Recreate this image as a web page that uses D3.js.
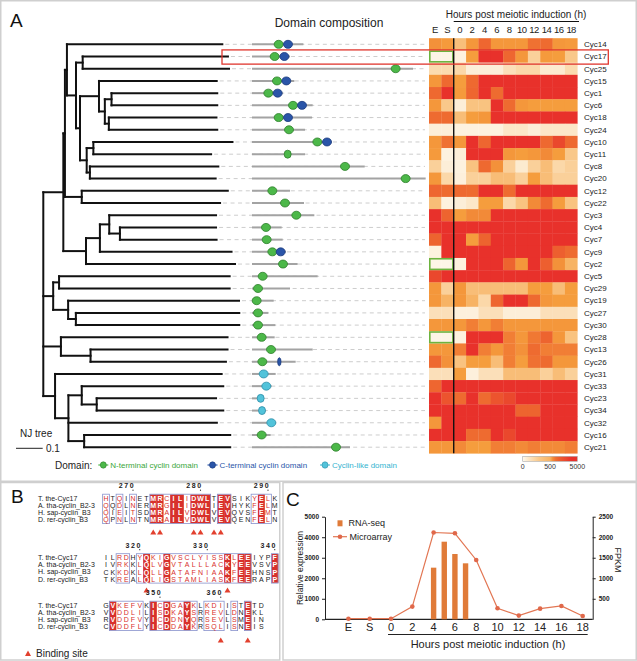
<!DOCTYPE html>
<html><head><meta charset="utf-8">
<script src="https://cdn.jsdelivr.net/npm/d3@7"></script>
<style>
body{margin:0;background:#fff}
svg{display:block}
text{font-family:"Liberation Sans",Arial,Helvetica,sans-serif}
</style>
</head><body>
<svg id="c" width="637" height="661"></svg>
<script>
// ---------------- DATA ----------------
const genes = ["Cyc14","Cyc17","Cyc25","Cyc15","Cyc1","Cyc6","Cyc18","Cyc24","Cyc10","Cyc11","Cyc8","Cyc20","Cyc12","Cyc22","Cyc3","Cyc4","Cyc7","Cyc9","Cyc2","Cyc5","Cyc29","Cyc19","Cyc27","Cyc30","Cyc28","Cyc13","Cyc26","Cyc31","Cyc33","Cyc23","Cyc34","Cyc32","Cyc16","Cyc21"];
const timeCols = ["E","S","0","2","4","6","8","10","12","14","16","18"];
const expr = [
 [900,750,380,800,1700,800,800,800,1400,1500,800,750],
 [20,20,40,700,4500,4500,1700,800,250,750,700,300],
 [180,180,200,60,60,60,150,200,200,80,80,180],
 [800,1600,700,1600,4500,4500,4500,4500,4500,4500,4500,4500],
 [1600,4500,750,1700,4500,1500,4500,4500,4500,4500,4500,4500],
 [800,300,60,350,350,4500,1500,800,700,700,700,700],
 [1500,1500,400,700,800,4500,4500,4500,4500,4500,4500,4500],
 [60,60,40,40,40,40,100,100,60,100,100,100],
 [800,1400,800,4500,1700,4500,4500,4500,4500,1600,3000,1600],
 [750,40,60,4500,4500,4500,800,700,800,1000,700,300],
 [250,60,40,350,1600,900,250,80,250,400,200,250],
 [800,200,50,250,250,400,400,250,700,400,250,250],
 [1700,1500,1600,1500,4500,4500,1500,4500,4500,4500,4500,4500],
 [400,40,60,100,700,700,200,350,1000,1500,700,350],
 [4500,1800,700,1000,1000,4500,4500,4500,4500,4500,4500,4500],
 [4500,4500,4500,4500,4500,4500,4500,4500,4500,4500,4500,4500],
 [1800,4500,4500,700,1800,4500,4500,4500,4500,4500,4500,4500],
 [40,4500,4500,4500,4500,4500,4500,4500,4500,4500,2000,1500],
 [20,20,40,4500,4500,4500,1800,800,4500,2000,900,500],
 [3000,4500,4500,4500,4500,4500,4500,4500,4500,4500,4500,4500],
 [800,250,800,400,400,400,400,400,700,700,400,700],
 [800,500,800,500,200,1700,4500,4500,1600,800,700,700],
 [150,150,50,50,150,150,60,60,60,150,150,150],
 [800,800,800,1200,800,1200,800,800,800,800,800,800],
 [20,20,40,4500,4500,4500,1200,800,1300,1800,800,350],
 [800,800,1200,4500,1200,800,1200,900,1500,1200,1200,1200],
 [1600,900,350,700,700,400,1200,700,1400,1500,800,800],
 [150,150,700,50,150,150,400,400,400,250,400,250],
 [1700,4500,4500,4500,4500,4500,4500,4500,4500,4500,4500,4500],
 [4500,2500,1500,4500,1500,2500,3000,4500,4500,4500,4500,4500],
 [4500,4500,4500,4500,4500,4500,4500,1800,1800,4500,4500,4500],
 [800,4500,4500,4500,4500,4500,4500,4500,4500,4500,4500,4500],
 [4500,4500,4500,1500,1500,4500,3000,4500,4500,4500,4500,4500],
 [800,800,1000,700,700,1200,1200,1000,1200,1000,1000,1200]
];
const missingES = ["Cyc17","Cyc2","Cyc28"];
const highlighted = "Cyc17";
const legendTicks = [0,500,5000];

const treeNewick = "((((Cyc14:0.582,((Cyc17:0.544,Cyc25:0.548):0.025,((Cyc15:0.441,((Cyc1:0.396,Cyc6:0.396):0.025,(Cyc18:0.403,Cyc24:0.406):0.015):0.022):0.071,((Cyc10:0.521,Cyc11:0.441):0.025,(Cyc8:0.481,Cyc20:0.471):0.012):0.025):0.015):0.034):0.0075,(Cyc12:0.547,Cyc22:0.518):0.063):0.006,(((Cyc3:0.400,(Cyc4:0.360,Cyc7:0.362):0.040):0.035,Cyc9:0.493):0.052,Cyc2:0.558):0.085):0.075,((Cyc5:0.639,Cyc29:0.639):0.022,(Cyc19:0.640,(Cyc27:0.612,Cyc30:0.612):0.029):0.056):0.037,(Cyc28:0.624,(Cyc13:0.513,Cyc26:0.507):0.111):0.066,(Cyc31:0.624,((Cyc33:0.530,(Cyc23:0.447,Cyc34:0.474):0.056):0.050,Cyc32:0.556,(Cyc16:0.547,Cyc21:0.547):0.059):0.050):0.044);";
const scaleBarValue = 0.1;

const proteinLength = [308,228,966,254,184,364,360,318,478,318,676,1042,228,312,374,178,184,204,274,394,228,130,98,140,136,364,262,142,118,66,84,144,112,588];
const domains = [
 [["N",160],["C",216]],[["N",136],["C",194]],[["N",862]],[["N",150],["C",206]],
 [["N",98],["C",154]],[["N",246],["C",300]],[["N",160],["C",216]],[["N",222]],
 [["N",392],["C",450]],[["N",214,42]],[["N",558]],[["N",922]],
 [["N",122]],[["N",198]],[["N",266]],[["N",84]],[["N",88]],[["N",122],["C",172]],
 [["N",186]],[["N",64]],[["N",36]],[["N",28]],[["N",36]],[["N",36]],[["N",58]],
 [["N",114]],[["N",62],["C",164,20]],[["L",70]],[["L",86]],[["L",52,42]],[["L",60,42]],
 [["L",116]],[["N",58]],[["N",504]]
];
const domainTypes = ["N","C","L"];
const domainNames = ["N-terminal cyclin domain","C-terminal cyclin domain","Cyclin-like domain"];

const seqNames = ["T. the-Cyc17","A. tha-cyclin_B2-3","H. sap-cyclin_B3","D. rer-cyclin_B3"];
const block1 = ["HTQINETMRCILIDWLTEVSIKYELK","QQDLNERMRGILIDWLIEVHYKFELM","QIEITSDMRAILVDWLVEVQVSFEMT","QPNLNTNMRAILVDWLVEVQENFELN"];
const block2 = ["ILRDHYQKIGVSCLYISSKLEEIYPF","IVRKKLQLVGVTALLLACKYEEVSVP","CKKDKLQLLGATAFNIAAKFEEHNSP","TKREALQLIGSTAMLIASKFEERAPP"];
const block3 = ["GVKEFVKICDGAYKLKDIISTETD","VVDDLILISDKAYSRREVLDNEKL","RVDDFVYICDDNYQRSEVLSMEIN","CVDDFLYICDDAYKRSQLISNEIS"];
const marks1 = "s.s.s..FFsFFsFFF.FF...sFs.";
const marks2 = "..ss.sFssFssssssssFsFF...F";
const marks3 = ".Fssss.FsFssFs.sss.s.F..";
const ticks1 = [[4,"270"],[14,"280"],[24,"290"]];
const ticks2 = [[5,"320"],[15,"330"],[25,"340"]];
const ticks3 = [[8,"350"],[17,"360"]];
const sites1 = [7,8,13,14,16,17];
const sites2 = [6,18];
const sites3 = [17,21];

const microarray = [30,30,30,620,4230,4190,2890,540,180,520,650,160];
const rnaseqHours = [4,5,6,7];
const rnaseqFPKM = [1258,1891,1591,1364];
const leftTicks = [0,1000,2000,3000,4000,5000];
const rightTicks = [500,1000,1500,2000,2500];

// ---------------- DRAW ----------------
const svg = d3.select("#c");
svg.append("rect").attr("width",637).attr("height",661).attr("fill","#fff");
const frame = "#cfcfcf";
svg.append("rect").attr("x",0.75).attr("y",0.75).attr("width",635.5).attr("height",480.5).attr("fill","none").attr("stroke",frame).attr("stroke-width",1.5);
svg.append("rect").attr("x",0.75).attr("y",482.5).attr("width",279).attr("height",177.5).attr("fill","none").attr("stroke",frame).attr("stroke-width",1.5);
svg.append("rect").attr("x",283).attr("y",482.5).attr("width",353.25).attr("height",177.5).attr("fill","none").attr("stroke",frame).attr("stroke-width",1.5);

// panel letters
svg.append("text").attr("x",10).attr("y",27).attr("font-size",19).attr("fill","#111").text("A");
svg.append("text").attr("x",11).attr("y",503).attr("font-size",19).attr("fill","#111").text("B");
svg.append("text").attr("x",286).attr("y",506).attr("font-size",19).attr("fill","#111").text("C");

// ---- scales panel A
const yRow = d3.scaleBand().domain(genes).range([38.2,453.3]);
const rowC = g => yRow(g) + yRow.bandwidth()/2;
const xHeat = d3.scaleBand().domain(timeCols).range([429,577.3]);
const xTree = d3.scaleLinear().domain([0,1]).range([43.3,310.3]);
const xDom = d3.scaleLinear().domain([0,1000]).range([252,252+1000/6]);
const color = d3.scaleLinear().domain([0,100,300,700,1500,4000])
  .range(["#fdf9ef","#fce7c8","#f9c88a","#f59d3d","#ee6b30","#e8312b"]).clamp(true);

// ---- tree
function parseNewick(s){
  let i=0;
  function node(){
    const n={children:[]};
    if(s[i]==='('){ i++; n.children.push(node()); while(s[i]===','){ i++; n.children.push(node()); } i++; }
    let name=''; while(i<s.length && !':,);'.includes(s[i])) name+=s[i++];
    n.name=name; n.length=0;
    if(s[i]===':'){ i++; let num=''; while(i<s.length && !',);'.includes(s[i])) num+=s[i++]; n.length=+num; }
    return n;
  }
  return node();
}
const root = d3.hierarchy(parseNewick(treeNewick), d => d.children.length ? d.children : null);
root.eachBefore(d => { d.dist = d.parent ? d.parent.dist + d.data.length : 0; d.px = xTree(d.dist); });
root.eachAfter(d => {
  if(!d.children) d.py = rowC(d.data.name);
  else d.py = (d.children[0].py + d.children[d.children.length-1].py)/2;
});

// dashed guides
svg.append("g").selectAll("line").data(root.leaves()).join("line")
  .attr("x1",d=>d.px+3).attr("x2",425).attr("y1",d=>d.py).attr("y2",d=>d.py)
  .attr("stroke","#cdcdcd").attr("stroke-width",1).attr("stroke-dasharray","4,3.5");

const gTree = svg.append("g").attr("stroke","#111").attr("stroke-width",2).attr("stroke-linecap","square");
root.descendants().forEach(d => {
  if(d.parent) gTree.append("line").attr("x1",d.parent.px).attr("x2",d.px).attr("y1",d.py).attr("y2",d.py);
  if(d.children) gTree.append("line").attr("x1",d.px).attr("x2",d.px)
      .attr("y1",d.children[0].py).attr("y2",d.children[d.children.length-1].py);
});

// ---- domain composition
const domFill = {N:"#4cb849",C:"#2a55a8",L:"#52c3da"};
const domStroke = {N:"#2f7f2c",C:"#1b3a7c",L:"#2d8ea8"};
const domText = {N:"#3aa63a",C:"#2a55a8",L:"#35b4cf"};
const gDom = svg.append("g");
genes.forEach((g,i) => {
  const y = rowC(g);
  gDom.append("line").attr("x1",xDom(0)).attr("x2",xDom(proteinLength[i])).attr("y1",y).attr("y2",y)
    .attr("stroke","#a3a3a3").attr("stroke-width",2);
  domains[i].forEach(dm => {
    const w = dm[2] || 54;
    gDom.append("ellipse").attr("cx",xDom(dm[1])).attr("cy",y)
      .attr("rx",(xDom(w)-xDom(0))/2).attr("ry",4)
      .attr("fill",domFill[dm[0]]).attr("stroke",domStroke[dm[0]]).attr("stroke-width",0.8);
  });
});
svg.append("text").attr("x",329).attr("y",27).attr("text-anchor","middle").attr("font-size",12).attr("fill","#222").text("Domain composition");

// ---- heatmap
const gH = svg.append("g");
genes.forEach((g,i) => {
  timeCols.forEach((t,j) => {
    gH.append("rect").attr("x",xHeat(t)).attr("y",yRow(g)).attr("width",xHeat.bandwidth()+0.3).attr("height",yRow.bandwidth()+0.3)
      .attr("fill",color(expr[i][j]));
  });
  gH.append("text").attr("x",584).attr("y",rowC(g)).attr("dy","0.35em").attr("font-size",8).attr("fill","#222").text(g);
});
missingES.forEach(g => {
  gH.append("rect").attr("x",xHeat("E")+0.8).attr("y",yRow(g)+0.8).attr("width",xHeat.bandwidth()*2-1.6).attr("height",yRow.bandwidth()-1.6)
    .attr("fill","none").attr("stroke","#6db33f").attr("stroke-width",1.6);
});
const xSep = xHeat("0");
svg.append("line").attr("x1",xSep).attr("x2",xSep).attr("y1",38.2).attr("y2",453.3).attr("stroke","#111").attr("stroke-width",1.4);
// highlight box
svg.append("rect").attr("x",222).attr("y",yRow(highlighted)-0.5).attr("width",386.3).attr("height",yRow.bandwidth()+2)
  .attr("fill","none").attr("stroke","#e0362e").attr("stroke-width",1.3);

// header
svg.selectAll(".colLab").data(timeCols).join("text").attr("class","colLab")
  .attr("x",d=>xHeat(d)+xHeat.bandwidth()/2).attr("y",30).attr("dy","0.35em")
  .attr("text-anchor","middle").attr("font-size",9.5).attr("letter-spacing",d=>d.length>1?-0.6:0).attr("fill","#222").text(d=>d);
svg.append("text").attr("x",516).attr("y",14).attr("dy","0.35em").attr("text-anchor","middle").attr("font-size",10).attr("fill","#222").text("Hours post meiotic induction (h)");
svg.append("line").attr("x1",xSep).attr("x2",579).attr("y1",21.5).attr("y2",21.5).attr("stroke","#111").attr("stroke-width",1.2);

// color legend
const legScale = d3.scaleLinear().domain(legendTicks).range([522.7,550,577.3]);
const grad = svg.append("defs").append("linearGradient").attr("id","lg").attr("x1","0%").attr("x2","100%");
d3.range(0,21).forEach(k => {
  const px = 522.7 + k/20*(577.3-522.7);
  grad.append("stop").attr("offset",(k*5)+"%").attr("stop-color",color(legScale.invert(px)));
});
svg.append("rect").attr("x",522.7).attr("y",456.3).attr("width",54.6).attr("height",5).attr("fill","url(#lg)").attr("stroke","#aaa").attr("stroke-width",0.6);
svg.selectAll(".legT").data(legendTicks).join("text").attr("class","legT")
  .attr("x",d=>legScale(d)).attr("y",467).attr("dy","0.35em").attr("text-anchor","middle").attr("font-size",7).attr("fill","#333").text(d=>d);

// domain legend
svg.append("text").attr("x",55).attr("y",465).attr("dy","0.35em").attr("font-size",10).attr("fill","#222").text("Domain:");
const legX = [103.3,212.5,325];
domainTypes.forEach((t,k) => {
  const x = legX[k];
  svg.append("line").attr("x1",x-5).attr("x2",x+5).attr("y1",465).attr("y2",465).attr("stroke",domFill[t]).attr("stroke-width",1.2);
  svg.append("ellipse").attr("cx",x).attr("cy",465).attr("rx",3).attr("ry",3.2).attr("fill",domFill[t]).attr("stroke",domStroke[t]).attr("stroke-width",0.6);
  svg.append("text").attr("x",x+7).attr("y",465).attr("dy","0.35em").attr("font-size",8).attr("fill",domText[t]).text(domainNames[k]);
});

// NJ tree label & scale bar
svg.append("text").attr("x",20).attr("y",433.5).attr("dy","0.35em").attr("font-size",10).attr("fill","#222").text("NJ tree");
const sbLen = xTree(scaleBarValue)-xTree(0);
svg.append("line").attr("x1",16).attr("x2",16+sbLen).attr("y1",448.3).attr("y2",448.3).attr("stroke","#222").attr("stroke-width",1);
svg.append("text").attr("x",46).attr("y",448.3).attr("dy","0.35em").attr("font-size",10).attr("fill","#222").text(scaleBarValue);

// ---------------- PANEL B ----------------
const colW = 6.75, seqX0 = 106, rowH = 7.2;
const red = "#d8302b";
function drawBlock(seqs, marks, ticks, sites, yTop, tickY, triY){
  const g = svg.append("g");
  const xc = i => seqX0 + i*colW;
  seqNames.forEach((n,r) => {
    g.append("text").attr("x",38).attr("y",yTop + r*rowH + rowH/2).attr("dy","0.35em").attr("font-size",7).attr("fill","#1a1a1a").text(n);
  });
  for(let c=0;c<marks.length;c++){
    if(marks[c]==='F') g.append("rect").attr("x",xc(c)-colW/2).attr("y",yTop).attr("width",colW+0.2).attr("height",rowH*4).attr("fill",red);
  }
  let c=0;
  while(c<marks.length){
    if(marks[c]!=='.'){
      let e=c; while(e+1<marks.length && marks[e+1]!=='.') e++;
      g.append("rect").attr("x",xc(c)-colW/2).attr("y",yTop-0.3).attr("width",(e-c+1)*colW).attr("height",rowH*4+0.6)
        .attr("fill","none").attr("stroke","#8892cc").attr("stroke-width",0.8);
      c=e+1;
    } else c++;
  }
  seqs.forEach((s,r) => {
    const t = g.append("text").attr("y",yTop + r*rowH + rowH/2).attr("dy","0.36em").attr("text-anchor","middle")
      .attr("font-family","'Liberation Mono','DejaVu Sans Mono',monospace").attr("font-size",7);
    s.split("").forEach((ch,ci) => {
      const m = marks[ci];
      t.append("tspan").attr("x",xc(ci))
        .attr("font-weight", m==='F'?"bold":"normal")
        .attr("fill", m==='F'?"#fff":(m==='s'?red:"#222")).text(ch);
    });
  });
  ticks.forEach(([ci,lab]) => {
    g.append("text").attr("x",xc(ci)+2.2).attr("y",tickY).attr("text-anchor","end").attr("font-size",7).attr("font-weight","bold")
      .attr("letter-spacing",1.6).attr("fill","#222").text(lab);
    g.append("circle").attr("cx",xc(ci)).attr("cy",tickY+2.2).attr("r",0.6).attr("fill","#222");
  });
  sites.forEach(ci => {
    g.append("path").attr("d",`M${xc(ci)-3},${triY+2.6}L${xc(ci)+3},${triY+2.6}L${xc(ci)},${triY-2.6}Z`).attr("fill","#e2402e");
  });
}
drawBlock(block1, marks1, ticks1, sites1, 494.5, 488, 532);
drawBlock(block2, marks2, ticks2, sites2, 554, 547.5, 590);
drawBlock(block3, marks3, ticks3, sites3, 601.5, 595, 640);
svg.append("path").attr("d","M25,656L31,656L28,650.5Z").attr("fill","#e2402e");
svg.append("text").attr("x",36).attr("y",653.3).attr("dy","0.35em").attr("font-size",10).attr("fill","#222").text("Binding site");

// ---------------- PANEL C ----------------
const xC = d3.scaleLinear().domain([-1.1,11.47]).range([325,592.7]);
const yL = d3.scaleLinear().domain([0,5000]).range([619.3,516.7]);
const yR = d3.scaleLinear().domain([0,2500]).range([619.3,516.7]);
const hourIdx = h => 2 + h/2;
const gC = svg.append("g");
const fmt = d3.format("d");
const axL = gC.append("g").attr("transform","translate(325,0)").call(d3.axisLeft(yL).tickValues(leftTicks).tickFormat(fmt).tickSize(3).tickSizeOuter(0));
const axR = gC.append("g").attr("transform","translate(592.7,0)").call(d3.axisRight(yR).tickValues(rightTicks).tickFormat(fmt).tickSize(3).tickSizeOuter(0));
[axL,axR].forEach(a => {
  a.selectAll("text").attr("font-size",6.5).attr("font-weight","bold").attr("fill","#222").attr("font-family","'Liberation Sans',Arial,sans-serif");
  a.selectAll("path,line").attr("stroke","#222").attr("stroke-width",1);
});
gC.append("line").attr("x1",325).attr("x2",592.7).attr("y1",619.3).attr("y2",619.3).attr("stroke","#222").attr("stroke-width",1.2);
gC.selectAll(".bar").data(rnaseqHours).join("rect").attr("class","bar")
  .attr("x",(h)=>xC(hourIdx(h))-2.7).attr("width",5.4)
  .attr("y",(h,i)=>yR(rnaseqFPKM[i])).attr("height",(h,i)=>619.3-yR(rnaseqFPKM[i])).attr("fill","#e07b39");
const lineGen = d3.line().x((d,i)=>xC(i)).y(d=>yL(d));
gC.append("path").datum(microarray).attr("d",lineGen).attr("fill","none").attr("stroke","#e27653").attr("stroke-width",1.2);
gC.selectAll(".pt").data(microarray).join("circle").attr("class","pt")
  .attr("cx",(d,i)=>xC(i)).attr("cy",d=>yL(d)).attr("r",2.3).attr("fill","#e0684a");
gC.selectAll(".xl").data(timeCols).join("text").attr("class","xl")
  .attr("x",(d,i)=>xC(i)).attr("y",627).attr("dy","0.35em").attr("text-anchor","middle").attr("font-size",11).attr("fill","#222").text(d=>d);
gC.append("line").attr("x1",xC(2)-3).attr("x2",xC(11)+5).attr("y1",634.5).attr("y2",634.5).attr("stroke","#222").attr("stroke-width",1.2);
gC.append("text").attr("x",488).attr("y",644.5).attr("dy","0.35em").attr("text-anchor","middle").attr("font-size",11).attr("fill","#222").text("Hours post meiotic induction (h)");
gC.append("text").attr("transform","translate(300,568) rotate(-90)").attr("text-anchor","middle").attr("dy","0.35em").attr("font-size",8.5).attr("fill","#222").text("Relative expression");
gC.append("text").attr("transform","translate(618,560) rotate(90)").attr("text-anchor","middle").attr("dy","0.35em").attr("font-size",9).attr("fill","#222").text("FPKM");
gC.append("rect").attr("x",337.5).attr("y",520.3).attr("width",5).attr("height",6).attr("fill","#e07b39");
gC.append("text").attr("x",348.5).attr("y",523.3).attr("dy","0.35em").attr("font-size",9).attr("fill","#222").text("RNA-seq");
gC.append("line").attr("x1",333).attr("x2",347).attr("y1",536.7).attr("y2",536.7).attr("stroke","#e27653").attr("stroke-width",1.2);
gC.append("circle").attr("cx",340).attr("cy",536.7).attr("r",2.3).attr("fill","#e0684a");
gC.append("text").attr("x",349.5).attr("y",536.7).attr("dy","0.35em").attr("font-size",9).attr("fill","#222").text("Microarray");
</script>
</body></html>
